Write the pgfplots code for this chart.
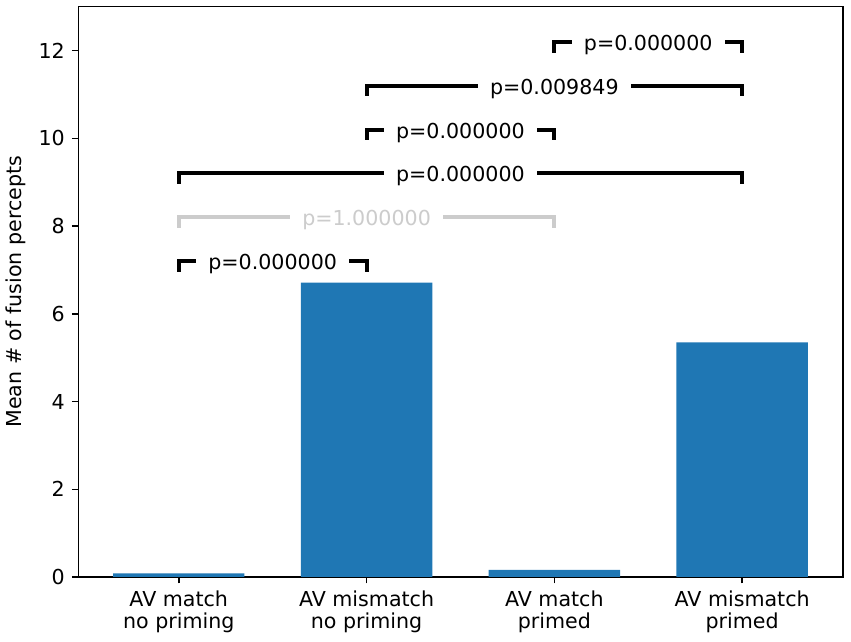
\documentclass[border=0pt]{standalone}
\usepackage{fontspec}
\setmainfont{DejaVu Sans}
\usepackage{pgfplots}
\pgfplotsset{compat=1.18}
\definecolor{barblue}{HTML}{1F77B4}
\definecolor{pgray}{HTML}{CCCCCC}
\begin{document}
\fontsize{20.6}{22.7}\selectfont
\begin{tikzpicture}
\useasboundingbox (0,0) rectangle (851pt,642pt);
\begin{axis}[
 at={(78.3pt,65pt)}, anchor=south west,
 scale only axis, width=764.7pt, height=570.3pt,
 xmin=-0.535, xmax=3.537, ymin=0, ymax=13,
 xtick={0,1,2,3},
 xticklabels={{AV match\\no priming},{AV mismatch\\no priming},{AV match\\primed},{AV mismatch\\primed}},
 xticklabel style={align=center},
 ytick={0,2,...,12},
 tick pos=left, tick align=outside,
 major tick length=6.5pt,
 every tick/.style={black, line width=1.5pt},
 axis line style={line width=1.5pt},
 /pgf/number format/assume math mode=true,
 ylabel={Mean \# of fusion percepts},
 every axis y label/.style={at={(axis description cs:-0.0815,0.5)}, rotate=90, anchor=center},
 clip=false,
]
\addplot[ybar, bar width=0.7, bar shift=0, fill=barblue, draw=none] coordinates {(0,0.08)(1,6.71)(2,0.16)(3,5.35)};

\addplot[black, line width=4pt, line cap=rect, line join=miter] coordinates {(0,7)(0,7.2)(1,7.2)(1,7)};
\addplot[pgray, line width=4pt, line cap=rect, line join=miter] coordinates {(0,8)(0,8.2)(2,8.2)(2,8)};
\addplot[black, line width=4pt, line cap=rect, line join=miter] coordinates {(0,9)(0,9.2)(3,9.2)(3,9)};
\addplot[black, line width=4pt, line cap=rect, line join=miter] coordinates {(1,10)(1,10.2)(2,10.2)(2,10)};
\addplot[black, line width=4pt, line cap=rect, line join=miter] coordinates {(1,11)(1,11.2)(3,11.2)(3,11)};
\addplot[black, line width=4pt, line cap=rect, line join=miter] coordinates {(2,12)(2,12.2)(3,12.2)(3,12)};

\tikzset{pl/.style={fill=white, inner xsep=12pt, inner ysep=2pt, anchor=base, yshift=-8.6pt}}
\node[pl] at (axis cs:0.5,7.2) {p=0.000000};
\node[pl, text=pgray] at (axis cs:1,8.2) {p=1.000000};
\node[pl] at (axis cs:1.5,9.2) {p=0.000000};
\node[pl] at (axis cs:1.5,10.2) {p=0.000000};
\node[pl] at (axis cs:2,11.2) {p=0.009849};
\node[pl] at (axis cs:2.5,12.2) {p=0.000000};
\end{axis}
\end{tikzpicture}
\end{document}
